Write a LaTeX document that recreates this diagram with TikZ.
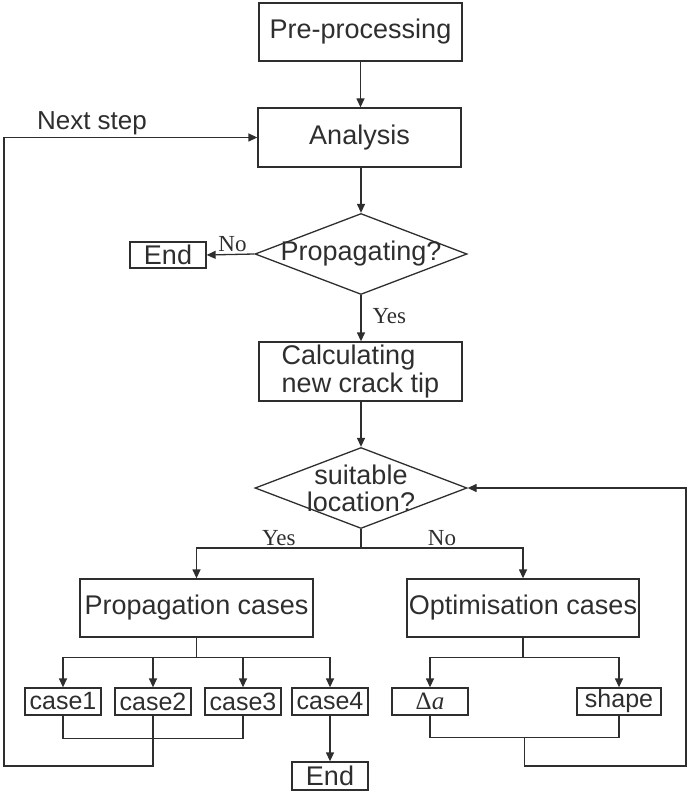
\documentclass[tikz,border=0pt]{standalone}
\usepackage{fontspec}
\setmainfont{Liberation Serif}
\setsansfont{Liberation Sans}
\usetikzlibrary{shapes.geometric,arrows.meta,calc}
\definecolor{ink}{HTML}{2E2E2E}
\begin{document}
\begin{tikzpicture}[x=1pt,y=-1pt,
  box/.style={draw=ink, line width=1.3pt, text=ink, inner sep=0pt,
    font=\sffamily\fontsize{27}{28}\selectfont},
  casebox/.style={box, minimum width=76pt, minimum height=27pt,
    font=\sffamily\fontsize{25}{26}\selectfont},
  decision/.style={diamond, draw=ink, line width=1.3pt, inner sep=0pt,
    minimum width=212pt, minimum height=81pt},
  dtext/.style={text=ink, align=center, inner sep=0pt,
    font=\sffamily\fontsize{27}{27}\selectfont},
  lbl/.style={text=ink, inner sep=2pt, font=\rmfamily\fontsize{23}{24}\selectfont},
  line/.style={draw=ink, line width=1.3pt},
  arr/.style={line, -{Triangle[length=9pt,width=8pt]}}
]
\useasboundingbox (0,0) rectangle (692,791);

% nodes
\node[box, minimum width=203pt, minimum height=58pt] (pre) at (360.5,32) {Pre-processing};
\node[box, minimum width=203pt, minimum height=59pt] (ana) at (359.5,137.5) {Analysis};
\node[decision, label={[dtext]center:Propagating?}] (d1) at (361,254) {};
\node[box, minimum width=76pt, minimum height=26pt] (end1) at (168,255) {End};
\node[box, minimum width=203pt, minimum height=59pt, align=left] (calc) at (360.5,371.5) {Calculating\\new crack tip};
\node[decision, label={[dtext]center:suitable\\location?}] (d2) at (361,488) {};
\node[box, minimum width=233pt, minimum height=58pt] (propc) at (196.5,608) {Propagation cases};
\node[box, minimum width=232pt, minimum height=58pt] (optc) at (523,608) {Optimisation cases};
\node[casebox] (c1) at (63,701.5) {case1};
\node[casebox] (c2) at (153,701.5) {case2};
\node[casebox] (c3) at (243,701.5) {case3};
\node[casebox] (c4) at (330,701.5) {case4};
\node[casebox] (da) at (430,701.5) {{\rmfamily Δ\textit{a}}};
\node[casebox, minimum width=84pt] (shp) at (619,701.5) {shape};
\node[box, minimum width=76pt, minimum height=28pt] (end2) at (330,776) {End};
\node[text=ink, inner sep=0pt, font=\sffamily\fontsize{26}{26}\selectfont] (ns) at (92,123) {Next step};

% connectors
\draw[arr] (pre.south) -- (pre.south |- ana.north);
\draw[arr] (d1.north |- ana.south) -- (d1.north);
\draw[arr] (d1.west) -- node[lbl, above, xshift=2pt] {No} (end1.east);
\draw[arr] (d1.south) -- node[lbl, right, xshift=9pt, yshift=2pt] {Yes} (d1.south |- calc.north);
\draw[arr] (d2.north |- calc.south) -- (d2.north);
\coordinate (split) at (361,548);
\draw[line] (d2.south) -- (split);
\draw[arr] (split) -| node[lbl, above, pos=0.25] {Yes} (propc.north);
\draw[arr] (split) -| node[lbl, above, pos=0.25] {No} (optc.north);

\draw[line] (propc.south) -- ++(0,20) coordinate (pb);
\draw[arr] (pb) -| (c1.north);
\draw[arr] (pb) -| (c2.north);
\draw[arr] (pb) -| (c3.north);
\draw[arr] (pb) -| (c4.north);
\draw[line] (optc.south) -- ++(0,20) coordinate (ob);
\draw[arr] (ob) -| (da.north);
\draw[arr] (ob) -| (shp.north);

\draw[arr] (c4.south) -- (end2.north);
\draw[line] (c1.south) -- ++(0,23) -| (c3.south);
\coordinate (ll) at (4,766);
\draw[arr] (c2.south) |- (ll) |- (ana.west);

\draw[line] (da.south) -- ++(0,22) -| (shp.south);
\coordinate (dm) at ($(da.south)!0.5!(shp.south)+(0,22)$);
\coordinate (rr) at (686,766);
\draw[arr] (dm) |- (rr) |- (d2.east);
\end{tikzpicture}
\end{document}
